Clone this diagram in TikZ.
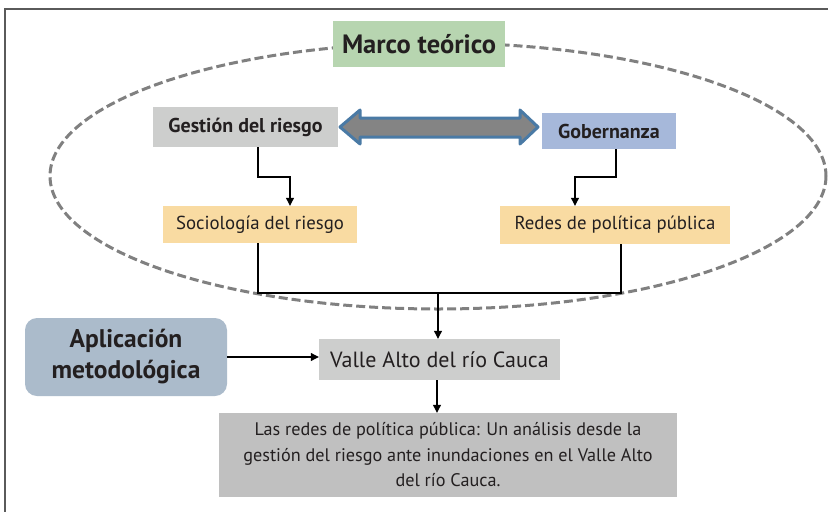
\documentclass[tikz,border=0pt]{standalone}
\usepackage{fontspec}
\setmainfont{PT Sans}
\usetikzlibrary{arrows.meta}
\definecolor{txt}{RGB}{35,31,32}
\definecolor{cgreen}{RGB}{183,213,176}
\definecolor{clgray}{RGB}{205,206,205}
\definecolor{cblue}{RGB}{166,184,218}
\definecolor{cpeach}{RGB}{249,219,162}
\definecolor{capl}{RGB}{171,187,203}
\definecolor{cdgray}{RGB}{192,192,192}
\definecolor{carrfill}{RGB}{132,132,132}
\definecolor{carrline}{RGB}{74,122,165}
\definecolor{cdash}{RGB}{128,128,128}
\definecolor{cframe}{RGB}{90,90,90}
\tikzset{
  box/.style={rectangle, inner sep=0pt, text=txt, align=center},
  conn/.style={line width=1.1pt, draw=black, -{Triangle[length=8pt,width=8pt]}},
  plain/.style={line width=1.1pt, draw=black},
}
\begin{document}
\begin{tikzpicture}[x=1pt,y=-1pt]
\useasboundingbox (0,0) rectangle (828,512);
% frame
\draw[cframe, line width=1.6pt] (828,9) -- (5,9) -- (5,512);
% dashed ellipse
\draw[cdash, line width=3pt, dash pattern=on 9pt off 4pt] (438,176) ellipse [x radius=388, y radius=133];
% nodes
\node[box, fill=cgreen, minimum width=172pt, minimum height=46pt, font=\bfseries\fontsize{26.5}{28}\selectfont] (marco) at (419,44) {Marco teórico};
\node[box, fill=clgray, minimum width=185pt, minimum height=40pt, font=\bfseries\fontsize{20}{22}\selectfont] (gest) at (245.5,127) {Gestión del riesgo};
\node[box, fill=cblue, minimum width=134pt, minimum height=36pt, font=\bfseries\fontsize{20}{22}\selectfont] (gob) at (609,131) {Gobernanza};
\node[box, fill=cpeach, minimum width=194pt, minimum height=37pt, font=\fontsize{18.8}{20}\selectfont] (soc) at (260,224.5) {Sociología del riesgo};
\node[box, fill=cpeach, minimum width=230pt, minimum height=38pt, font=\fontsize{18.8}{20}\selectfont] (redes) at (615,225) {Redes de política pública};
\node[box, fill=capl, rounded corners=12pt, minimum width=202pt, minimum height=78pt, font=\bfseries\fontsize{25.5}{31}\selectfont] (apl) at (126,357) {Aplicación\\metodológica};
\node[box, fill=clgray, minimum width=241pt, minimum height=41pt, font=\fontsize{22}{24}\selectfont] (valle) at (439.5,359.5) {Valle Alto del río Cauca};
\node[box, fill=cdgray, minimum width=458pt, minimum height=84pt, font=\fontsize{18.2}{25.5}\selectfont] (tit) at (448,455) {Las redes de política pública: Un análisis desde la\\gestión del riesgo ante inundaciones en el Valle Alto\\del río Cauca.};
% double arrow between gest and gob
\draw[fill=carrfill, draw=carrline, line width=3pt, line join=round]
  (340,127) -- (360,110) -- (360,118) -- (520,118) -- (520,110) -- (538,127)
  -- (520,144) -- (520,137) -- (360,137) -- (360,144) -- cycle;
% connectors
\draw[conn] (gest.south -| 258,0) -- (258,177) -- (290,177) -- (soc.north -| 290,0);
\draw[conn] (gob.south -| 616,0) -- (616,177) -- (575,177) -- (redes.north -| 575,0);
\draw[plain] (soc.south -| 258,0) -- (258,293) -- (621,293) -- (redes.south -| 621,0);
\coordinate (join) at (438,293);
\draw[conn] (join) -- (valle.north -| join);
\draw[conn] (apl.east) -- (valle.west |- apl.east);
\draw[conn] (valle.south -| 437,0) -- (tit.north -| 437,0);
\end{tikzpicture}
\end{document}
